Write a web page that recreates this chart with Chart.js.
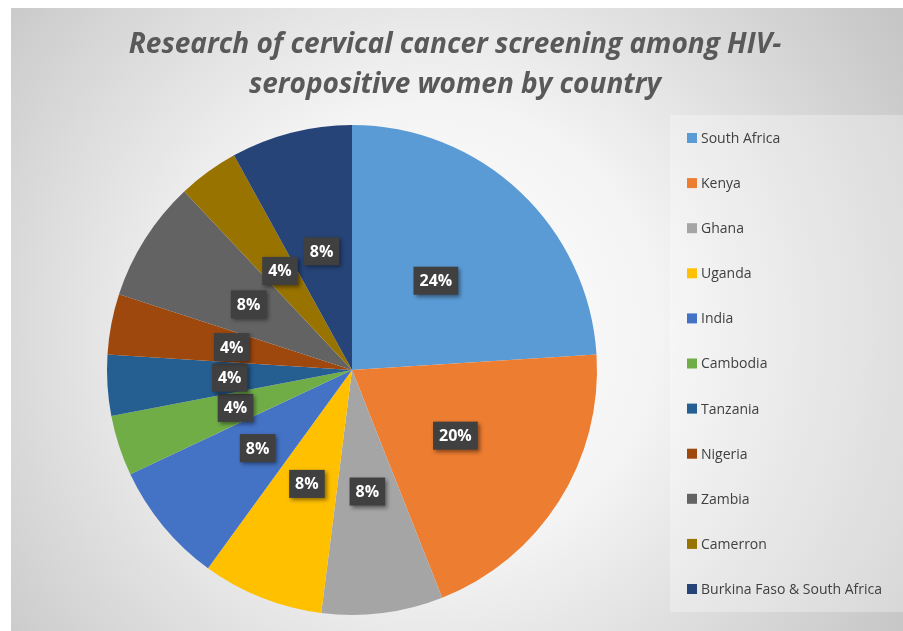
<!DOCTYPE html>
<html>
<head>
<meta charset="utf-8">
<title>Cervical cancer screening among HIV-seropositive women</title>
<script src="https://cdn.jsdelivr.net/npm/chart.js@4.4.0/dist/chart.umd.min.js"></script>
<style>
  html, body { margin: 0; padding: 0; background: #fff; }
  canvas { display: block; }
</style>
</head>
<body>
<canvas id="pieChart" width="903" height="631"></canvas>
<script>
const countries = ['South Africa', 'Kenya', 'Ghana', 'Uganda', 'India', 'Cambodia',
  'Tanzania', 'Nigeria', 'Zambia', 'Camerron', 'Burkina Faso & South Africa'];
const shares = [24, 20, 8, 8, 8, 4, 4, 4, 8, 4, 8];
const sliceColors = ['#5B9BD5', '#ED7D31', '#A5A5A5', '#FFC000', '#4472C4', '#70AD47',
  '#255E91', '#9E480E', '#636363', '#997300', '#264478'];
const titleLines = ['Research of cervical cancer screening among HIV-', 'seropositive women by country'];

// background, title and legend are painted by hand around the pie
const decor = {
  id: 'decor',
  beforeDraw(chart) {
    const ctx = chart.ctx;
    ctx.save();
    ctx.fillStyle = '#ffffff';
    ctx.fillRect(0, 0, chart.width, chart.height);
    const g = ctx.createRadialGradient(430, 330, 0, 430, 330, 560);
    g.addColorStop(0, '#ffffff');
    g.addColorStop(0.4, '#f4f4f4');
    g.addColorStop(1, '#c6c6c6');
    ctx.fillStyle = g;
    ctx.fillRect(11, 8, chart.width - 11, chart.height - 8);
    // legend panel
    ctx.fillStyle = 'rgba(255,255,255,0.3)';
    ctx.fillRect(670, 115, chart.width - 670, 497);
    ctx.restore();
  },
  afterDraw(chart) {
    const ctx = chart.ctx;
    ctx.save();
    ctx.fillStyle = '#595959';
    ctx.font = 'italic bold 28px "Open Sans"';
    ctx.textAlign = 'center';
    ctx.textBaseline = 'middle';
    titleLines.forEach((line, i) => ctx.fillText(line, 455, 45 + i * 40));

    ctx.font = '14px "Open Sans"';
    ctx.textAlign = 'left';
    countries.forEach((name, i) => {
      const y = 138 + i * 45.1;
      ctx.fillStyle = sliceColors[i];
      ctx.fillRect(687, y - 5, 10, 10);
      ctx.fillStyle = '#404040';
      ctx.fillText(name, 701, y + 1);
    });
    ctx.restore();
  },
  afterDatasetsDraw(chart) {
    const ctx = chart.ctx;
    const meta = chart.getDatasetMeta(0);
    ctx.save();
    ctx.font = 'bold 16px "Open Sans"';
    ctx.textAlign = 'center';
    ctx.textBaseline = 'middle';
    meta.data.forEach((arc, i) => {
      const p = arc.tooltipPosition();
      const txt = shares[i] + '%';
      const w = ctx.measureText(txt).width + 12;
      const h = 28;
      ctx.shadowColor = 'rgba(0,0,0,0.45)';
      ctx.shadowBlur = 4;
      ctx.shadowOffsetX = 2;
      ctx.shadowOffsetY = 2;
      ctx.fillStyle = '#404040';
      ctx.fillRect(p.x - w / 2, p.y - h / 2, w, h);
      ctx.shadowColor = 'transparent';
      ctx.fillStyle = '#ffffff';
      ctx.fillText(txt, p.x, p.y + 1);
    });
    ctx.restore();
  }
};

new Chart(document.getElementById('pieChart'), {
  type: 'pie',
  data: {
    labels: countries,
    datasets: [{
      data: shares,
      backgroundColor: sliceColors,
      borderWidth: 0
    }]
  },
  options: {
    responsive: false,
    animation: false,
    events: [],
    layout: { padding: { left: 107, right: 306, top: 125, bottom: 16 } },
    plugins: {
      legend: { display: false },
      title: { display: false },
      tooltip: { enabled: false }
    }
  },
  plugins: [decor]
});
</script>
</body>
</html>
